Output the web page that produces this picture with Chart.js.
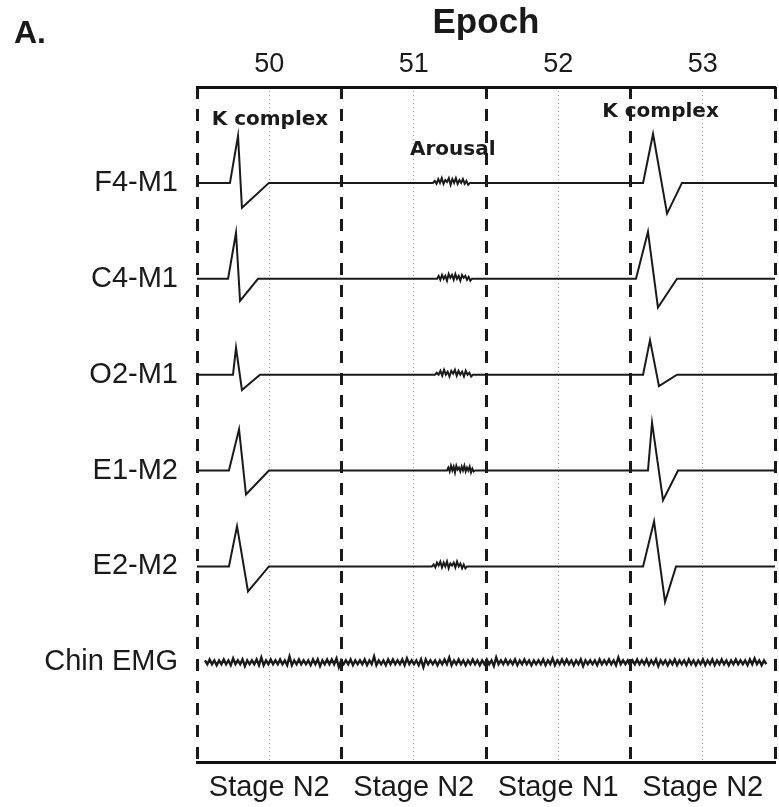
<!DOCTYPE html>
<html>
<head>
<meta charset="utf-8">
<script src="https://cdn.jsdelivr.net/npm/chart.js@4.4.1/dist/chart.umd.min.js"></script>
<style>
  body { margin: 0; background: #fff; }
  canvas { display: block; }
</style>
</head>
<body>
<canvas id="psgChart" width="779" height="807"></canvas>
<script>
const epochs = [50, 51, 52, 53];
const stages = ["Stage N2", "Stage N2", "Stage N1", "Stage N2"];
const channels = ["F4-M1", "C4-M1", "O2-M1", "E1-M2", "E2-M2", "Chin EMG"];
const epochEdges = [49.5, 50.5, 51.5, 52.5, 53.5];

// K complex in epoch 50: onset, peak, trough, back to baseline (in epochs)
const kTimesA = [
  [49.728, 49.784, 49.811, 49.998],
  [49.715, 49.770, 49.798, 49.922],
  [49.749, 49.770, 49.811, 49.936],
  [49.721, 49.791, 49.839, 49.998],
  [49.721, 49.777, 49.853, 49.998],
];
// peak / trough amplitude
const kAmpsA = [[0.49, -0.26], [0.48, -0.23], [0.28, -0.16], [0.43, -0.25], [0.42, -0.26]];

// K complex in epoch 53
const kTimesB = [
  [52.587, 52.656, 52.753, 52.856],
  [52.538, 52.621, 52.690, 52.822],
  [52.587, 52.635, 52.697, 52.822],
  [52.621, 52.649, 52.725, 52.829],
  [52.587, 52.663, 52.739, 52.815],
];
const kAmpsB = [[0.51, -0.32], [0.49, -0.30], [0.36, -0.12], [0.50, -0.31], [0.47, -0.37]];

// arousal burst in epoch 51
const arousalSpan = [[51.133, 51.389], [51.161, 51.403], [51.147, 51.410], [51.230, 51.424], [51.126, 51.369]];
const arousalNoise = [
  [0, 0.02, -0.01, 0.04, 0.0, 0.05, -0.01, 0.03, 0.01, 0.05, -0.02, 0.04, 0.0, 0.05, -0.01, 0.03, 0.0, 0.04, -0.01, 0.02, -0.02, 0],
  [0, 0.03, -0.01, 0.04, 0.0, 0.03, -0.02, 0.05, 0.01, 0.04, -0.01, 0.05, 0.0, 0.03, -0.02, 0.04, 0.01, 0.03, -0.01, 0.02, -0.02, 0],
  [0, 0.02, 0.0, 0.04, -0.01, 0.05, 0.0, 0.03, -0.02, 0.04, 0.01, 0.05, -0.01, 0.04, 0.0, 0.03, -0.02, 0.04, 0.0, 0.02, -0.02, 0],
  [0, 0.03, -0.01, 0.05, 0.0, 0.04, -0.02, 0.05, 0.01, 0.03, -0.01, 0.04, 0.0, 0.05, -0.01, 0.03, 0.0, 0.04, -0.02, 0.02, -0.01, 0],
  [0, 0.02, -0.01, 0.04, 0.01, 0.05, -0.01, 0.04, 0.0, 0.05, -0.02, 0.03, 0.01, 0.04, -0.01, 0.05, 0.0, 0.03, -0.02, 0.02, -0.02, 0],
];

// chin EMG, continuous low-amplitude activity
const emgSpan = [49.555, 53.44];
const chinEmg = [
  0.02, -0.02, 0.03, -0.02, 0.02, -0.03, 0.02, -0.02, 0.03, -0.02,
  0.02, -0.03, 0.04, -0.02, 0.02, -0.02, 0.03, -0.04, 0.02, -0.02,
  0.02, -0.02, 0.03, -0.03, 0.05, -0.03, 0.02, -0.02, 0.03, -0.02,
  0.02, -0.02, 0.03, -0.02, 0.02, -0.03, 0.06, -0.03, 0.02, -0.02,
  0.03, -0.02, 0.02, -0.02, 0.02, -0.03, 0.03, -0.02, 0.03, -0.04,
  0.02, -0.02, 0.03, -0.02, 0.03, -0.02, 0.04, -0.05, 0.02, -0.02,
  0.02, -0.02, 0.03, -0.03, 0.02, -0.02, 0.02, -0.02, 0.03, -0.03,
  0.02, -0.02, 0.06, -0.03, 0.02, -0.02, 0.02, -0.03, 0.03, -0.02,
  0.03, -0.02, 0.02, -0.02, 0.03, -0.03, 0.04, -0.02, 0.02, -0.02,
  0.02, -0.03, 0.03, -0.05, 0.03, -0.02, 0.02, -0.02, 0.02, -0.03,
  0.02, -0.02, 0.03, -0.02, 0.05, -0.03, 0.02, -0.02, 0.03, -0.02,
  0.02, -0.03, 0.02, -0.02, 0.03, -0.02, 0.02, -0.03, 0.02, -0.02,
  0.03, -0.02, 0.02, -0.04, 0.05, -0.02, 0.02, -0.02, 0.03, -0.02,
  0.02, -0.02, 0.03, -0.03, 0.02, -0.02, 0.03, -0.02, 0.02, -0.03,
  0.02, -0.02, 0.02, -0.02, 0.03, -0.03, 0.02, -0.02, 0.04, -0.03,
  0.02, -0.02, 0.03, -0.02, 0.03, -0.02, 0.02, -0.03, 0.02, -0.02,
  0.03, -0.04, 0.02, -0.02, 0.02, -0.02, 0.02, -0.03, 0.03, -0.02,
  0.02, -0.02, 0.03, -0.02, 0.02, -0.03, 0.05, -0.02, 0.02, -0.02,
  0.02, -0.03, 0.02, -0.02, 0.03, -0.02, 0.02, -0.02, 0.03, -0.03,
  0.02, -0.02, 0.03, -0.04, 0.02, -0.02, 0.02, -0.03, 0.02, -0.02,
  0.03, -0.03, 0.02, -0.02, 0.02, -0.03, 0.03, -0.02, 0.02, -0.03,
  0.02, -0.02, 0.03, -0.03, 0.02, -0.02, 0.03, -0.03, 0.02, -0.02,
  0.03, -0.02, 0.02, -0.03, 0.02, -0.02, 0.03, -0.02, 0.02, -0.02,
  0.02, -0.03, 0.03, -0.02, 0.04, -0.02, 0.02, -0.03, 0.02, -0.02,
];

// event labels (epoch, row units)
const noteText = ["K complex", "K complex", "Arousal"];
const noteX = [50.005, 52.708, 51.27];
const noteY = [6.66, 6.74, 6.34];

const LABEL_FONT = "'Liberation Sans', Arial, sans-serif";
const INK = "#1a1a1a";

// each channel sits on its own row: F4-M1 at 6 down to Chin EMG at 1
function rowOf(i) {
  return 6 - i;
}

function eegTrace(i) {
  const base = rowOf(i);
  const pts = [{ x: 49.5, y: base }];
  const addK = (t, a) => {
    pts.push({ x: t[0], y: base });
    pts.push({ x: t[1], y: base + a[0] });
    pts.push({ x: t[2], y: base + a[1] });
    pts.push({ x: t[3], y: base });
  };
  addK(kTimesA[i], kAmpsA[i]);
  const s = arousalSpan[i][0], e = arousalSpan[i][1];
  const n = arousalNoise[i];
  n.forEach(function (v, j) {
    pts.push({ x: s + (e - s) * j / (n.length - 1), y: base + v });
  });
  addK(kTimesB[i], kAmpsB[i]);
  pts.push({ x: 53.5, y: base });
  return pts;
}

function emgTrace() {
  const base = rowOf(5);
  const s = emgSpan[0], e = emgSpan[1];
  return chinEmg.map(function (v, j) {
    return { x: s + (e - s) * j / (chinEmg.length - 1), y: base + v };
  });
}

const datasets = [];
for (var i = 0; i < 5; i++) {
  datasets.push({
    label: channels[i],
    data: eegTrace(i),
    borderColor: INK,
    borderWidth: 2,
    pointRadius: 0,
    tension: 0,
  });
}
datasets.push({
  label: channels[5],
  data: emgTrace(),
  borderColor: INK,
  borderWidth: 2.4,
  pointRadius: 0,
  tension: 0,
});

// "A." panel letter and the event labels
const textPlugin = {
  id: "psgText",
  afterDatasetsDraw(chart) {
    const ctx = chart.ctx;
    const xs = chart.scales.x;
    const ys = chart.scales.y;
    ctx.save();
    ctx.fillStyle = INK;
    ctx.textBaseline = "middle";
    ctx.textAlign = "left";
    ctx.font = "bold 32px " + LABEL_FONT;
    ctx.fillText("A.", 14, 34);
    ctx.textAlign = "center";
    ctx.font = "bold 20px 'DejaVu Sans', sans-serif";
    noteText.forEach(function (t, k) {
      ctx.fillText(t, xs.getPixelForValue(noteX[k]), ys.getPixelForValue(noteY[k]));
    });
    ctx.restore();
  },
};

const ctx = document.getElementById("psgChart").getContext("2d");
const psgChart = new Chart(ctx, {
  type: "line",
  data: { datasets: datasets },
  plugins: [textPlugin],
  options: {
    responsive: false,
    animation: false,
    layout: { padding: { right: 4 } },
    plugins: {
      legend: { display: false },
      tooltip: { enabled: false },
    },
    scales: {
      x: {
        type: "linear",
        position: "bottom",
        min: 49.5,
        max: 53.5,
        afterBuildTicks: function (scale) {
          scale.ticks = epochs.map(function (v) { return { value: v }; });
        },
        afterFit: function (scale) { scale.height = 45; },
        ticks: {
          autoSkip: false,
          maxRotation: 0,
          padding: 9,
          color: INK,
          font: { family: LABEL_FONT, size: 29 },
          callback: function (v, idx) { return stages[idx]; },
        },
        grid: { color: "#a8a8a8", lineWidth: 1, drawTicks: false },
        border: { display: true, color: "#111", width: 3, dash: [1, 3] },
      },
      xTop: {
        type: "linear",
        position: "top",
        min: 49.5,
        max: 53.5,
        afterBuildTicks: function (scale) {
          scale.ticks = epochs.map(function (v) { return { value: v }; });
        },
        afterFit: function (scale) { scale.height = 87; },
        ticks: {
          autoSkip: false,
          maxRotation: 0,
          padding: 6,
          color: INK,
          font: { family: LABEL_FONT, size: 27 },
          callback: function (v, idx) { return String(epochs[idx]); },
        },
        title: {
          display: true,
          text: "Epoch",
          color: INK,
          font: { family: LABEL_FONT, size: 35, weight: "bold" },
          padding: { top: 2, bottom: 0 },
        },
        grid: { display: false, drawTicks: false },
        border: { display: true, color: "#111", width: 3 },
      },
      // dashed epoch boundaries
      xEdge: {
        type: "linear",
        position: "bottom",
        min: 49.5,
        max: 53.5,
        afterBuildTicks: function (scale) {
          scale.ticks = epochEdges.map(function (v) { return { value: v }; });
        },
        afterFit: function (scale) { scale.height = 0; },
        ticks: { display: false },
        grid: { color: "#1a1a1a", lineWidth: 3, drawTicks: false },
        border: { display: false, dash: [12, 10] },
      },
      y: {
        type: "linear",
        min: -0.04,
        max: 7,
        afterBuildTicks: function (scale) {
          scale.ticks = channels.map(function (c, k) { return { value: rowOf(k) }; });
        },
        afterFit: function (scale) { scale.width = 197; },
        ticks: {
          autoSkip: false,
          padding: 19,
          color: INK,
          font: { family: LABEL_FONT, size: 29 },
          callback: function (v, idx) { return channels[idx]; },
        },
        grid: { display: false, drawTicks: false },
        border: { display: false },
      },
    },
  },
});
</script>
</body>
</html>
